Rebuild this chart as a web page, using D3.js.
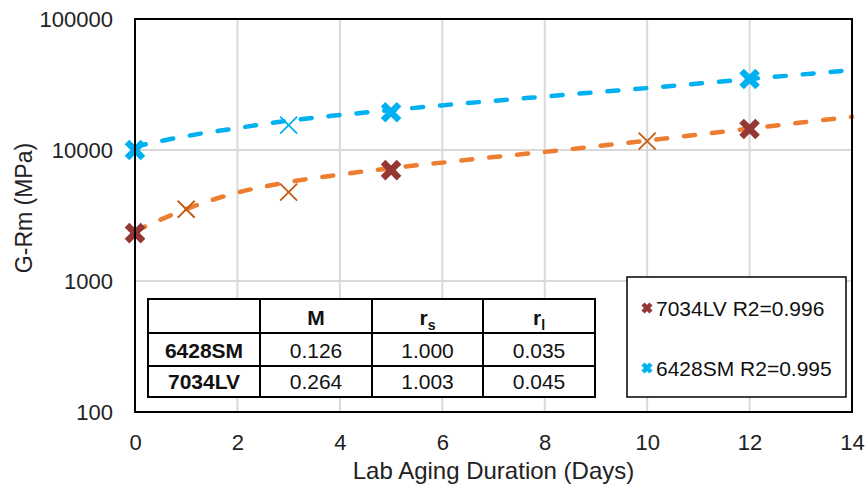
<!DOCTYPE html>
<html lang="en">
<head>
    <meta charset="UTF-8">
    <title>G-Rm vs Lab Aging Duration</title>
    <script src="https://d3js.org/d3.v7.min.js"></script>
    <style>
        body, html {
            margin: 0;
            background: white;
        }
        svg {
            font-family: "Liberation Sans", Arial, sans-serif;
        }
    </style>
</head>
<body>
    <div id="chart"></div>
    <script>
        // measured points (thick markers are the legend series)
        var days6428 = [0, 5, 12];
        var grm6428 = [10000, 19400, 34800];
        var days6428Other = [3];
        var grm6428Other = [15500];

        var days7034 = [0, 5, 12];
        var grm7034 = [2320, 7020, 14450];
        var days7034Other = [1, 3, 10];
        var grm7034Other = [3530, 4770, 11700];

        // fitted trend lines
        var trendDays = [0, 0.5, 1, 2, 3, 4, 5, 6, 7, 8, 9, 10, 11, 12, 13, 14];
        var trend6428 = [10620, 11700, 12770, 14700, 16770, 18480, 20170, 21910, 23720, 25590, 27600, 29710, 32160, 34800, 37670, 40780];
        var trend7034 = [2400, 2940, 3540, 4730, 5690, 6490, 7270, 8010, 8830, 9670, 10670, 11800, 13110, 14570, 16200, 17900];

        var xTicks = [0, 2, 4, 6, 8, 10, 12, 14];
        var yTicks = [100, 1000, 10000, 100000];

        var tableHeader = ["", "M", "r_s", "r_l"];
        var tableRows = [
            ["6428SM", "0.126", "1.000", "0.035"],
            ["7034LV", "0.264", "1.003", "0.045"]
        ];
        var legendLabels = ["7034LV R2=0.996", "6428SM R2=0.995"];

        var width = 868, height = 491;
        var margin = { top: 19, right: 16, bottom: 79, left: 135 };

        var svg = d3.select("#chart").append("svg")
            .attr("width", width)
            .attr("height", height);

        var x = d3.scaleLinear().domain([0, 14]).range([margin.left, width - margin.right]);
        var y = d3.scaleLog().domain([100, 100000]).range([height - margin.bottom, margin.top]);

        // grid
        svg.append("g").selectAll("line").data(xTicks).enter().append("line")
            .attr("x1", d => x(d)).attr("x2", d => x(d))
            .attr("y1", y(100)).attr("y2", y(100000))
            .attr("stroke", "#d9d9d9").attr("stroke-width", 2);
        svg.append("g").selectAll("line").data(yTicks).enter().append("line")
            .attr("x1", x(0)).attr("x2", x(14))
            .attr("y1", d => y(d)).attr("y2", d => y(d))
            .attr("stroke", "#d9d9d9").attr("stroke-width", 2);

        // axes (labels only, frame drawn separately)
        var xAxis = d3.axisBottom(x).tickValues(xTicks).tickSize(0).tickPadding(22);
        var yAxis = d3.axisLeft(y).tickValues(yTicks).tickFormat(d3.format("d")).tickSize(0).tickPadding(22);
        var gx = svg.append("g").attr("transform", "translate(0," + y(100) + ")").call(xAxis);
        var gy = svg.append("g").attr("transform", "translate(" + x(0) + ",0)").call(yAxis);
        [gx, gy].forEach(function (g) {
            g.select(".domain").remove();
            g.selectAll("text").attr("font-size", 22).attr("fill", "#222")
                .attr("font-family", "'Liberation Sans', Arial, sans-serif");
        });

        // trend lines
        var line = d3.line().x(d => x(d[0])).y(d => y(d[1])).curve(d3.curveMonotoneX);
        svg.append("path")
            .attr("d", line(trendDays.map((d, i) => [d, trend7034[i]])))
            .attr("fill", "none").attr("stroke", "#ed7d31").attr("stroke-width", 4.5)
            .attr("stroke-dasharray", "11,17").attr("stroke-linecap", "round");
        svg.append("path")
            .attr("d", line(trendDays.map((d, i) => [d, trend6428[i]])))
            .attr("fill", "none").attr("stroke", "#00b0f0").attr("stroke-width", 4.5)
            .attr("stroke-dasharray", "11,17").attr("stroke-linecap", "round");

        function drawCross(g, cx, cy, half, sw, color) {
            g.append("path")
                .attr("d", "M" + (cx - half) + "," + (cy - half) + "L" + (cx + half) + "," + (cy + half) +
                    "M" + (cx - half) + "," + (cy + half) + "L" + (cx + half) + "," + (cy - half))
                .attr("stroke", color).attr("stroke-width", sw).attr("fill", "none");
        }

        var marks = svg.append("g");
        days7034Other.forEach((d, i) => drawCross(marks, x(d), y(grm7034Other[i]), 8.5, 1.8, "#c55a11"));
        days6428Other.forEach((d, i) => drawCross(marks, x(d), y(grm6428Other[i]), 8.5, 1.8, "#00b0f0"));
        days7034.forEach((d, i) => drawCross(marks, x(d), y(grm7034[i]), 8, 6.5, "#943634"));
        days6428.forEach((d, i) => drawCross(marks, x(d), y(grm6428[i]), 8, 6.5, "#00b0f0"));

        // plot frame
        svg.append("rect")
            .attr("x", x(0)).attr("y", y(100000))
            .attr("width", x(14) - x(0)).attr("height", y(100) - y(100000))
            .attr("fill", "none").attr("stroke", "#000").attr("stroke-width", 2);

        // axis titles
        svg.append("text")
            .attr("x", (x(0) + x(14)) / 2).attr("y", 479)
            .attr("text-anchor", "middle").attr("font-size", 24).attr("fill", "#222")
            .text("Lab Aging Duration (Days)");
        svg.append("text")
            .attr("transform", "translate(32,208) rotate(-90)")
            .attr("text-anchor", "middle").attr("font-size", 23).attr("fill", "#222")
            .text("G-Rm (MPa)");

        // table
        var colX = [148, 260, 372, 483, 595];
        var rowY = [299, 333, 366, 397];
        var table = svg.append("g");
        table.append("rect")
            .attr("x", colX[0]).attr("y", rowY[0])
            .attr("width", colX[4] - colX[0]).attr("height", rowY[3] - rowY[0])
            .attr("fill", "white");
        var allRows = [tableHeader].concat(tableRows);
        allRows.forEach(function (row, r) {
            row.forEach(function (cell, c) {
                var t = table.append("text")
                    .attr("x", (colX[c] + colX[c + 1]) / 2)
                    .attr("y", rowY[r + 1] - 8)
                    .attr("text-anchor", "middle")
                    .attr("font-size", 21)
                    .attr("font-weight", (r === 0 || c === 0) ? "bold" : "normal")
                    .attr("fill", "#111");
                if (cell.indexOf("_") > 0) {
                    var parts = cell.split("_");
                    t.append("tspan").text(parts[0]);
                    t.append("tspan").attr("font-size", 14).attr("dy", 5).text(parts[1]);
                } else {
                    t.text(cell);
                }
            });
        });
        colX.forEach(function (cx) {
            table.append("line").attr("x1", cx).attr("x2", cx).attr("y1", rowY[0]).attr("y2", rowY[3])
                .attr("stroke", "#000").attr("stroke-width", 2);
        });
        rowY.forEach(function (ry) {
            table.append("line").attr("x1", colX[0] - 1).attr("x2", colX[4] + 1).attr("y1", ry).attr("y2", ry)
                .attr("stroke", "#000").attr("stroke-width", 2);
        });

        // legend
        var legend = svg.append("g");
        legend.append("rect")
            .attr("x", 627).attr("y", 277).attr("width", 219).attr("height", 120)
            .attr("fill", "white").attr("stroke", "#000").attr("stroke-width", 1.5);
        var legendColors = ["#943634", "#00b0f0"];
        legendLabels.forEach(function (label, i) {
            var ly = 308 + i * 60;
            drawCross(legend, 647, ly, 4, 4.5, legendColors[i]);
            legend.append("text")
                .attr("x", 656).attr("y", ly + 8)
                .attr("font-size", 21).attr("fill", "#111")
                .text(label);
        });
    </script>
</body>
</html>
